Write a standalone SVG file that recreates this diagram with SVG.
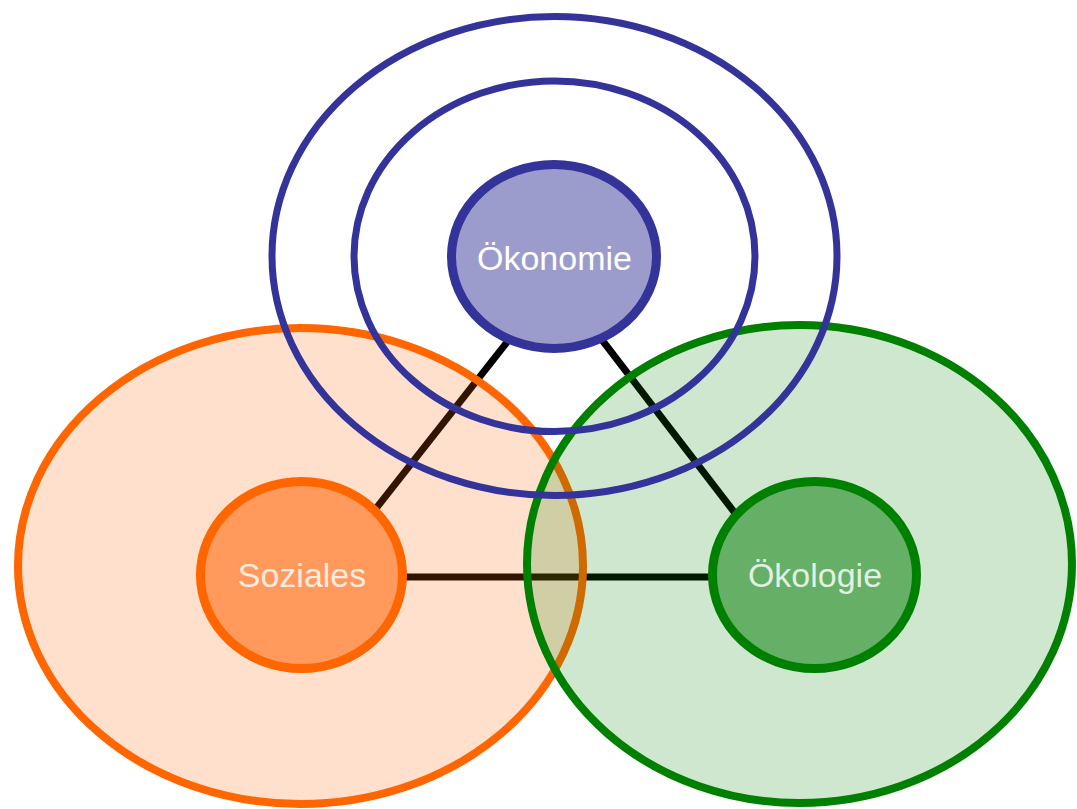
<svg xmlns="http://www.w3.org/2000/svg" width="1077" height="809" viewBox="0 0 1077 809">
  <style>
    .lbl { font-family: "Liberation Sans", Arial, sans-serif; font-size: 34px; text-anchor: middle; fill: #FFFFFF; }
    .dim { fill-opacity: 0.82; }
    .ring { fill: none; stroke: #333399; stroke-width: 7; }
    .conn { fill: none; stroke: #000000; stroke-width: 7; stroke-linejoin: miter; }
  </style>
  <rect width="1077" height="809" fill="#FFFFFF"/>
  <g id="connectors">
    <line class="conn" x1="556" y1="280" x2="322" y2="577"/>
    <line class="conn" x1="556" y1="280" x2="784" y2="577"/>
    <line class="conn" x1="322" y1="577" x2="784" y2="577"/>
  </g>
  <g id="soziales-area">
    <ellipse cx="300.5" cy="566" rx="282.5" ry="238" fill="#FF6600" fill-opacity="0.2" stroke="#FF6600" stroke-width="8"/>
  </g>
  <g id="oekologie-area">
    <ellipse cx="799.5" cy="564" rx="272.5" ry="239" fill="#008000" fill-opacity="0.19" stroke="#008000" stroke-width="8"/>
  </g>
  <g id="soziales">
    <ellipse cx="301.5" cy="575" rx="101" ry="93.5" fill="#FF9A5C" stroke="#FF6600" stroke-width="9"/>
    <text class="lbl dim" x="302" y="587">Soziales</text>
  </g>
  <g id="oekologie">
    <ellipse cx="814.5" cy="575" rx="102" ry="93.5" fill="#66AF66" stroke="#008000" stroke-width="9"/>
    <text class="lbl dim" x="815" y="587">Ökologie</text>
  </g>
  <g id="oekonomie-rings">
    <ellipse class="ring" cx="554.5" cy="256" rx="282.5" ry="239.5"/>
    <ellipse class="ring" cx="554.5" cy="256.3" rx="200.5" ry="175.3"/>
  </g>
  <g id="oekonomie">
    <ellipse cx="554" cy="256.5" rx="102.5" ry="92" fill="#9C9CCC" stroke="#333399" stroke-width="9"/>
    <text class="lbl" x="554.5" y="270">Ökonomie</text>
  </g>
</svg>
